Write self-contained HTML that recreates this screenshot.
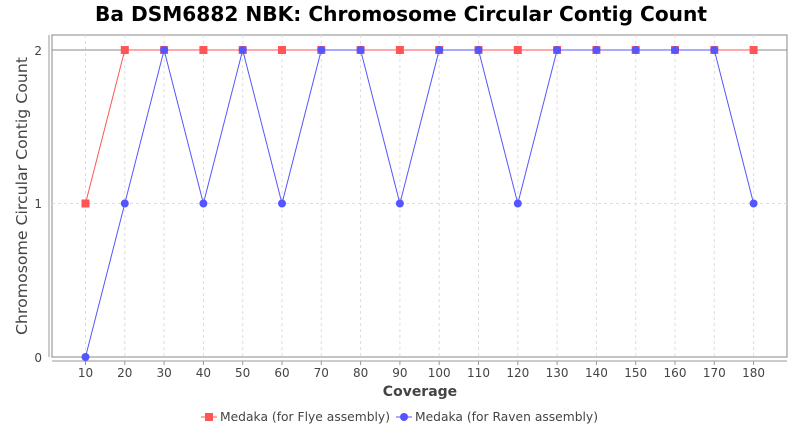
<!DOCTYPE html>
<html><head><meta charset="utf-8"><style>
body{margin:0;background:#fff;width:800px;height:430px;overflow:hidden}
text{font-family:"DejaVu Sans",sans-serif}
</style></head><body>
<svg id="s" width="800" height="430" xmlns="http://www.w3.org/2000/svg">
<rect width="800" height="430" fill="#fff"/>
<text x="401" y="21" text-anchor="middle" font-size="20" font-weight="bold" fill="#000" textLength="612" lengthAdjust="spacingAndGlyphs">Ba DSM6882 NBK: Chromosome Circular Contig Count</text>
<rect x="52" y="35" width="735" height="322" fill="#fff" stroke="#888" stroke-width="1"/>
<g id="grid"></g>
<line x1="52" y1="50" x2="787" y2="50" stroke="#888" stroke-width="1"/>
<line x1="49" y1="35" x2="49" y2="357" stroke="#999"/>
<line x1="52" y1="361" x2="787" y2="361" stroke="#999"/>
<g font-size="12" fill="#444" text-anchor="end">
<text x="42" y="55">2</text><text x="42" y="208">1</text><text x="42" y="362">0</text>
</g>
<g id="xl" font-size="12" fill="#444" text-anchor="middle"></g>
<text x="420" y="396" text-anchor="middle" font-size="14" font-weight="bold" fill="#444">Coverage</text>
<text transform="translate(27,196) rotate(-90)" text-anchor="middle" font-size="15" fill="#444" textLength="278" lengthAdjust="spacingAndGlyphs">Chromosome Circular Contig Count</text>
<g id="series"></g>
<line x1="201" y1="417" x2="217" y2="417" stroke="#f55"/><rect x="205" y="413" width="8" height="8" fill="#f55"/>
<text x="220" y="421" font-size="12" fill="#444" textLength="170" lengthAdjust="spacingAndGlyphs">Medaka (for Flye assembly)</text>
<line x1="396" y1="417" x2="412" y2="417" stroke="#55f"/><circle cx="404" cy="417" r="4" fill="#55f"/>
<text x="415" y="421" font-size="12" fill="#444" textLength="183" lengthAdjust="spacingAndGlyphs">Medaka (for Raven assembly)</text>
</svg>
<script>
var ns="http://www.w3.org/2000/svg";
function el(p,t,a,txt){var e=document.createElementNS(ns,t);for(var k in a)e.setAttribute(k,a[k]);if(txt)e.textContent=txt;document.getElementById(p).appendChild(e);}
function X(v){return 85.5+(v-10)*3.93}
function Y(v){return 357-v*153.5}
for(var v=10;v<=180;v+=10){el("grid","line",{x1:X(v),y1:35,x2:X(v),y2:357,stroke:"#ddd","stroke-dasharray":"3,3"});
el("grid","line",{x1:X(v),y1:361,x2:X(v),y2:365,stroke:"#999"});
el("xl","text",{x:X(v),y:377},String(v));}
el("grid","line",{x1:52,y1:203.5,x2:787,y2:203.5,stroke:"#ddd","stroke-dasharray":"3,3"});
var red=[1,2,2,2,2,2,2,2,2,2,2,2,2,2,2,2,2,2];
var blue=[0,1,2,1,2,1,2,2,1,2,2,1,2,2,2,2,2,1];
function pts(a){return a.map(function(y,i){return X(10+i*10)+","+Y(y)}).join(" ")}
el("series","polyline",{points:pts(red),fill:"none",stroke:"#f55","stroke-width":1});
el("series","polyline",{points:pts(blue),fill:"none",stroke:"#55f","stroke-width":1});
red.forEach(function(y,i){el("series","rect",{x:X(10+i*10)-4,y:Y(y)-4,width:8,height:8,fill:"#f55"})});
blue.forEach(function(y,i){el("series","circle",{cx:X(10+i*10),cy:Y(y),r:4,fill:"#55f"})});
</script>
</body></html>
